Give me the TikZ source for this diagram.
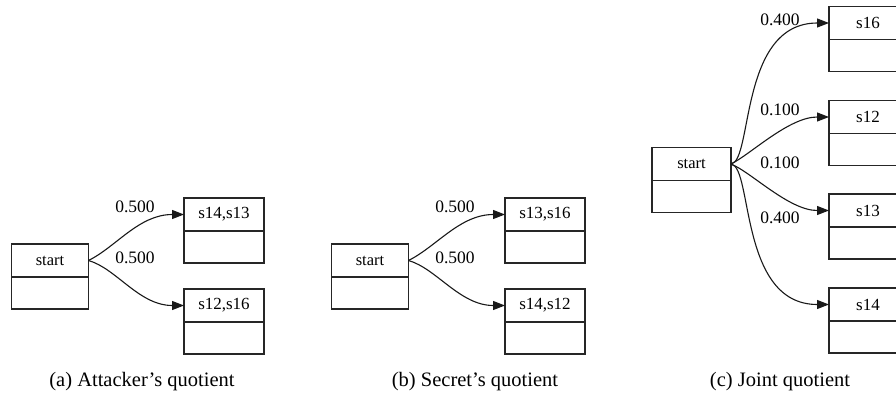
\documentclass[tikz,border=0pt]{standalone}
\usepackage{fontspec}
\setmainfont{Liberation Serif}
\usetikzlibrary{arrows.meta, positioning}

\begin{document}
\begin{tikzpicture}[x=1pt, y=-1pt, >={Triangle[length=12pt,width=9pt]}]
  \tikzstyle{hdr}=[rectangle, draw=black!85, line width=1.1pt, minimum width=80pt,
                   minimum height=33pt, inner sep=0pt, outer sep=0pt,
                   font=\fontsize{17}{17}\selectfont]
  \tikzstyle{strt}=[hdr, minimum width=77pt, font=\fontsize{16.5}{16.5}\selectfont]
  \tikzstyle{bdy}=[rectangle, draw=black!85, line width=1.1pt, minimum width=80pt,
                   minimum height=32pt, inner sep=0pt, outer sep=0pt]
  \tikzstyle{sbdy}=[bdy, minimum width=77pt]
  \tikzstyle{arr}=[->, line width=1.1pt, color=black!90]
  \tikzstyle{prob}=[font=\fontsize{17.5}{17.5}\selectfont]
  \tikzstyle{capt}=[font=\fontsize{20.5}{20.5}\selectfont]

  \fill[white] (0,0) rectangle (896,399);
  \clip (0,0) rectangle (896,399);

  % (a)
  \node[strt](sa) at (50,260.5){start};
  \node[sbdy, below=0pt of sa](sab){};
  \node[hdr](a1) at (224,214.5){s14,s13};
  \node[bdy, below=0pt of a1](a1b){};
  \node[hdr](a2) at (224,305.5){s12,s16};
  \node[bdy, below=0pt of a2](a2b){};
  \draw[arr](sa.east) .. controls +(28,-14) and +(-45,0) .. (a1.west);
  \draw[arr](sa.east) .. controls +(28,8) and +(-45,0) .. (a2.west);
  \node[prob](pa1) at (135,207){0.500};
  \node[prob](pa2) at (135,258){0.500};
  \node[capt](ca) at (142,382){(a) Attacker's quotient};

  % (b)
  \node[strt](sb) at (370,260.5){start};
  \node[sbdy, below=0pt of sb](sbb){};
  \node[hdr](b1) at (545,214.5){s13,s16};
  \node[bdy, below=0pt of b1](b1b){};
  \node[hdr](b2) at (545,305.5){s14,s12};
  \node[bdy, below=0pt of b2](b2b){};
  \draw[arr](sb.east) .. controls +(28,-14) and +(-45,0) .. (b1.west);
  \draw[arr](sb.east) .. controls +(28,8) and +(-45,0) .. (b2.west);
  \node[prob](pb1) at (455,207){0.500};
  \node[prob](pb2) at (455,258){0.500};
  \node[capt](cb) at (475,382){(b) Secret's quotient};

  % (c)
  \node[strt, minimum width=79pt](sc) at (691.5,164){start};
  \node[sbdy, minimum width=79pt, below=0pt of sc](scb){};
  \node[hdr, minimum width=78pt](c16) at (868,23){s16};
  \node[bdy, minimum width=78pt, below=0pt of c16](c16b){};
  \node[hdr, minimum width=78pt](c12) at (868,117){s12};
  \node[bdy, minimum width=78pt, below=0pt of c12](c12b){};
  \node[hdr, minimum width=78pt](c13) at (868,210.5){s13};
  \node[bdy, minimum width=78pt, below=0pt of c13](c13b){};
  \node[hdr, minimum width=78pt](c14) at (868,304.5){s14};
  \node[bdy, minimum width=78pt, below=0pt of c14](c14b){};
  \draw[arr](sc.east) .. controls +(22,-3) and +(-90,0) .. (c16.west);
  \draw[arr](sc.east) .. controls +(20,-10) and +(-40,0) .. (c12.west);
  \draw[arr](sc.east) .. controls +(20,8) and +(-40,0) .. (c13.west);
  \draw[arr](sc.east) .. controls +(22,3) and +(-90,0) .. (c14.west);
  \node[prob](pc1) at (780,20){0.400};
  \node[prob](pc2) at (780,110){0.100};
  \node[prob](pc3) at (780,163){0.100};
  \node[prob](pc4) at (780,218){0.400};
  \node[capt](cc) at (780,382){(c) Joint quotient};
\end{tikzpicture}
\end{document}
